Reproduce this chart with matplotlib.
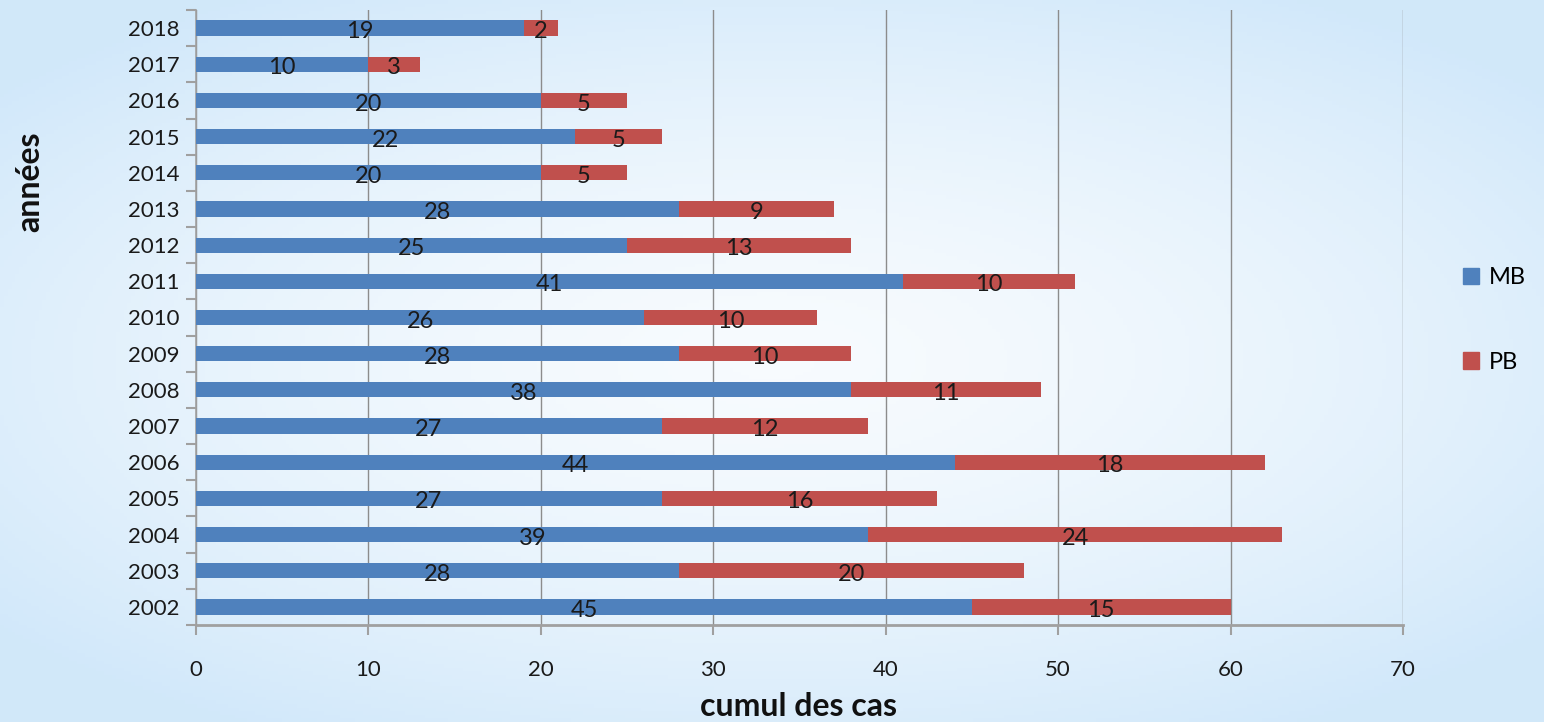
import numpy as np
import matplotlib.pyplot as plt
from matplotlib.patches import Patch

# data (bottom to top)
years = ["2002", "2003", "2004", "2005", "2006", "2007", "2008", "2009", "2010",
         "2011", "2012", "2013", "2014", "2015", "2016", "2017", "2018"]
mb = [45, 28, 39, 27, 44, 27, 38, 28, 26, 41, 25, 28, 20, 22, 20, 10, 19]
pb = [15, 20, 24, 16, 18, 12, 11, 10, 10, 10, 13, 9, 5, 5, 5, 3, 2]

blue = "#4f81bd"
red = "#c0504d"
font = ["Lato", "DejaVu Sans"]
plt.rcParams['font.family'] = font

fig = plt.figure(figsize=(15.44, 7.22), dpi=100)

# light blue background with a paler middle
bg = fig.add_axes([0, 0, 1, 1], zorder=-10)
yy, xx = np.mgrid[0:1:200j, 0:1:400j]
d = np.sqrt(((xx - 0.5) / 0.65) ** 2 + ((yy - 0.5) / 0.6) ** 2)
d = np.clip(d, 0, 1) ** 1.5
c_in = np.array([0.97, 0.985, 0.997])
c_out = np.array([0.82, 0.91, 0.98])
img = c_in[None, None, :] * (1 - d[..., None]) + c_out[None, None, :] * d[..., None]
bg.imshow(img, aspect="auto", extent=[0, 1, 0, 1])
bg.axis("off")

ax = fig.add_axes([196 / 1544, 1 - 625 / 722, (1403 - 196) / 1544, 615 / 722])
ax.patch.set_alpha(0)

y = np.arange(len(years))
ax.barh(y, mb, height=0.42, color=blue, zorder=3)
ax.barh(y, pb, left=mb, height=0.42, color=red, zorder=3)

for i in range(len(years)):
    ax.text(mb[i] / 2, y[i] - 0.1, str(mb[i]), ha="center", va="center",
            fontsize=17, color="#1a1a1a", zorder=4)
    ax.text(mb[i] + pb[i] / 2, y[i] - 0.1, str(pb[i]), ha="center", va="center",
            fontsize=17, color="#1a1a1a", zorder=4)

ax.set_xlim(0, 70)
ax.set_ylim(-0.5, len(years) - 0.5)
ax.set_xticks(range(0, 71, 10))
ax.set_yticks(y)
ax.set_yticklabels(years)
ax.set_yticks(np.arange(-0.5, len(years), 1), minor=True)
ax.tick_params(axis="y", which="major", length=0, labelsize=16, pad=12, colors="#1a1a1a")
ax.tick_params(axis="y", which="minor", length=7, color="#a0a0a0", width=1.5)
ax.tick_params(axis="x", length=7, width=1.5, labelsize=16, pad=18, colors="#1a1a1a")
ax.tick_params(axis="x", color="#a0a0a0")
ax.grid(axis="x", color="#8c8c8c", linewidth=1, zorder=0)

for s in ["top", "right"]:
    ax.spines[s].set_visible(False)
ax.spines["left"].set_color("#a0a0a0")
ax.spines["left"].set_linewidth(1.2)
ax.spines["bottom"].set_color("#a0a0a0")
ax.spines["bottom"].set_linewidth(2)

fig.text(799 / 1544, 1 - 706 / 722, "cumul des cas", fontsize=23, fontweight="bold",
         ha="center", va="center", color="#111111")
fig.text(30 / 1544, 1 - 182 / 722, "années", fontsize=23, fontweight="bold",
         ha="center", va="center", rotation=90, color="#111111")

handles = [Patch(color=blue, label="MB"), Patch(color=red, label="PB")]
fig.legend(handles=handles, loc="center left", bbox_to_anchor=(1446 / 1544, 1 - 320 / 722),
           frameon=False, fontsize=17, handlelength=0.7, handleheight=0.7,
           handletextpad=0.4, labelspacing=2.7, borderpad=0.2)

fig.savefig("out.png", dpi=100)
